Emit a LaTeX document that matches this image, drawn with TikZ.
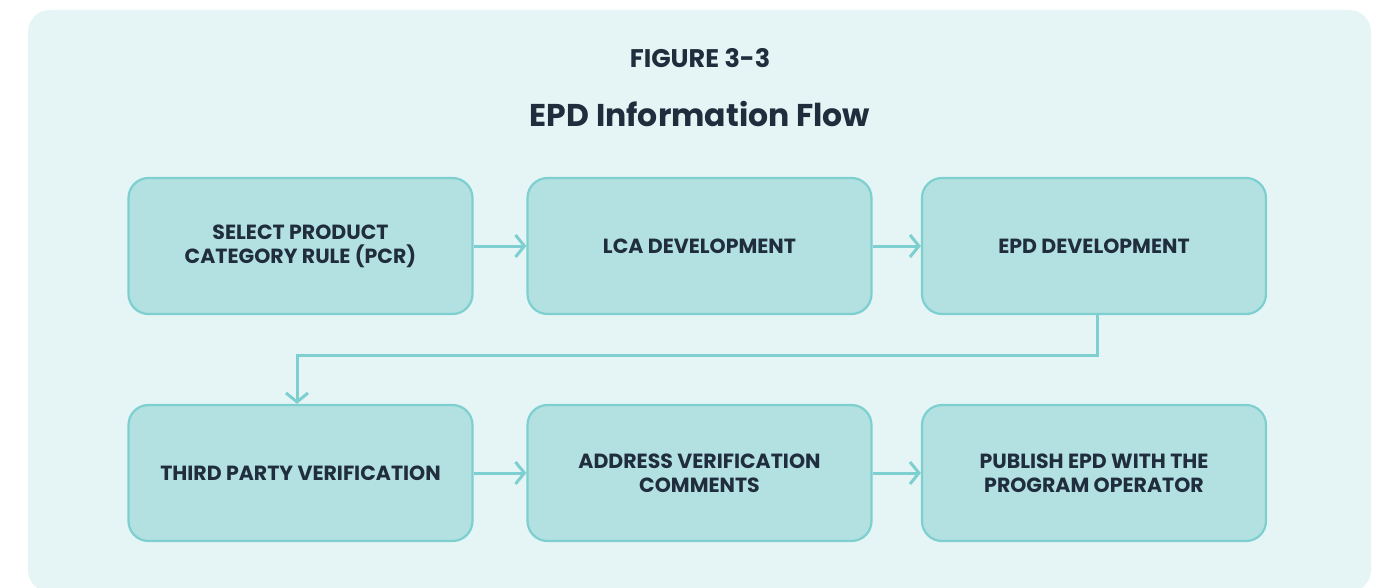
\documentclass[tikz,border=0pt]{standalone}
\usepackage{fontspec}
\setmainfont{Poppins}
\usetikzlibrary{arrows.meta}
\definecolor{panel}{HTML}{E5F5F5}
\definecolor{boxfill}{HTML}{B3E0E0}
\definecolor{boxline}{HTML}{7ECFCF}
\definecolor{ink}{HTML}{1F2D3D}
\tikzset{
  x=1pt, y=-1pt,
  stepbox/.style={draw=boxline, line width=2.2pt, fill=boxfill, rounded corners=20pt,
    minimum width=344pt, minimum height=136pt, align=center, text=ink,
    font=\fontsize{20.5}{24}\selectfont\bfseries},
  flow/.style={draw=boxline, line width=3pt,
    -{Straight Barb[length=9pt,width=22pt,line width=3pt]}},
}
\begin{document}
\begin{tikzpicture}
\useasboundingbox (0,0) rectangle (1376,588);
\fill[white] (0,0) rectangle (1376,588);
\fill[panel, rounded corners=22pt] (28,10) rectangle (1371,592);
\node[text=ink, font=\fontsize{25.5}{30}\selectfont\bfseries] (fig) at (700,58) {FIGURE 3-3};
\node[text=ink, font=\fontsize{31.5}{36}\selectfont\bfseries] (title) at (700,114) {EPD Information Flow};
\node[stepbox] (s1) at (300.5,246) {SELECT PRODUCT\\CATEGORY RULE (PCR)};
\node[stepbox] (s2) at (699.5,246) {LCA DEVELOPMENT};
\node[stepbox] (s3) at (1094,246) {EPD DEVELOPMENT};
\node[stepbox] (s4) at (300.5,473) {THIRD PARTY VERIFICATION};
\node[stepbox] (s5) at (699.5,473) {ADDRESS VERIFICATION\\COMMENTS};
\node[stepbox] (s6) at (1094,473) {PUBLISH EPD WITH THE\\PROGRAM OPERATOR};
\draw[flow] (s1.east) -- (s2.west);
\draw[flow] (s2.east) -- (s3.west);
\draw[flow] (s4.east) -- (s5.west);
\draw[flow] (s5.east) -- (s6.west);
\coordinate (b1) at (1097,355);
\coordinate (b2) at (297,355);
\draw[flow] (s3.south -| b1) -- (b1) -- (b2) -- (b2 |- s4.north);
\end{tikzpicture}
\end{document}
